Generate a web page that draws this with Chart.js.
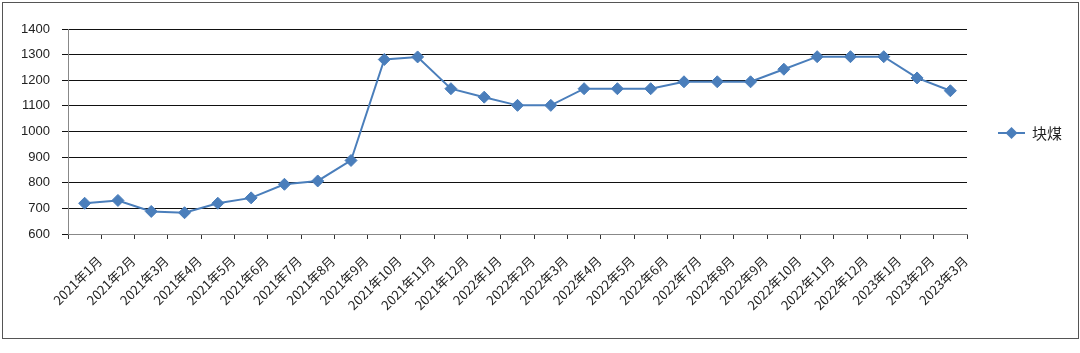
<!DOCTYPE html>
<html>
<head>
<meta charset="utf-8">
<script src="https://cdn.jsdelivr.net/npm/chart.js"></script>
<style>
  html, body { margin: 0; padding: 0; background: #fff; }
  #box {
    position: absolute; left: 2px; top: 2px;
    width: 1075px; height: 335px;
    border: 1px solid #555;
  }
</style>
</head>
<body>
<div id="box"><canvas id="lineChart"></canvas></div>
<script>
// 月份
const months = [
  '2021年1月', '2021年2月', '2021年3月', '2021年4月', '2021年5月', '2021年6月',
  '2021年7月', '2021年8月', '2021年9月', '2021年10月', '2021年11月', '2021年12月',
  '2022年1月', '2022年2月', '2022年3月', '2022年4月', '2022年5月', '2022年6月',
  '2022年7月', '2022年8月', '2022年9月', '2022年10月', '2022年11月', '2022年12月',
  '2023年1月', '2023年2月', '2023年3月'
];
// 块煤价格
const lumpCoal = [
  720, 731, 688, 683, 720, 741, 794, 807, 887, 1281, 1291, 1167,
  1134, 1102, 1102, 1167, 1167, 1167, 1194, 1194, 1194, 1243, 1292, 1292,
  1292, 1209, 1159
];
const yTicks = [600, 700, 800, 900, 1000, 1100, 1200, 1300, 1400];

const blue = '#4a7ebb';

// 右侧图例：线 + 菱形 + 文字
const sideLegend = {
  id: 'sideLegend',
  afterDraw(chart) {
    const ctx = chart.ctx;
    const y = 130;
    ctx.save();
    ctx.strokeStyle = blue;
    ctx.lineWidth = 2;
    ctx.beginPath();
    ctx.moveTo(995, y);
    ctx.lineTo(1022, y);
    ctx.stroke();
    ctx.fillStyle = blue;
    ctx.beginPath();
    ctx.moveTo(1008.5, y - 6);
    ctx.lineTo(1014.5, y);
    ctx.lineTo(1008.5, y + 6);
    ctx.lineTo(1002.5, y);
    ctx.closePath();
    ctx.fill();
    ctx.fillStyle = '#222';
    ctx.font = '15px "Noto Sans CJK SC"';
    ctx.textBaseline = 'middle';
    ctx.fillText(chart.data.datasets[0].label, 1029, y);
    ctx.restore();
  }
};

new Chart(document.getElementById('lineChart'), {
  type: 'line',
  data: {
    labels: months,
    datasets: [{
      label: '块煤',
      data: lumpCoal,
      borderColor: blue,
      backgroundColor: blue,
      borderWidth: 2,
      pointStyle: 'rectRot',
      pointRadius: 6,
      pointBorderWidth: 1,
      tension: 0
    }]
  },
  plugins: [sideLegend],
  options: {
    responsive: true,
    maintainAspectRatio: false,
    animation: false,
    layout: { padding: { top: 26, right: 111, left: 0, bottom: 0 } },
    plugins: {
      legend: { display: false },
      tooltip: { enabled: false }
    },
    scales: {
      x: {
        offset: true,
        afterFit(scale) { scale.height = 104; },
        grid: {
          offset: true,
          drawOnChartArea: false,
          drawTicks: true,
          tickLength: 5,
          color: '#333'
        },
        border: { color: '#888', width: 1 },
        ticks: {
          autoSkip: false,
          maxRotation: 45,
          minRotation: 45,
          labelOffset: 15,
          color: '#222',
          padding: 14,
          font: { size: 13, family: '"Noto Sans CJK SC", sans-serif' }
        }
      },
      y: {
        min: 600,
        max: 1400,
        afterFit(scale) { scale.width = 65; },
        afterBuildTicks(scale) { scale.ticks = yTicks.map(v => ({ value: v })); },
        grid: {
          color: '#111',
          lineWidth: 1,
          tickLength: 6
        },
        border: { color: '#888', width: 1 },
        ticks: {
          color: '#222',
          padding: 12,
          callback: v => String(v),
          font: { size: 13, family: '"Liberation Sans", sans-serif' }
        }
      }
    }
  }
});
</script>
</body>
</html>
